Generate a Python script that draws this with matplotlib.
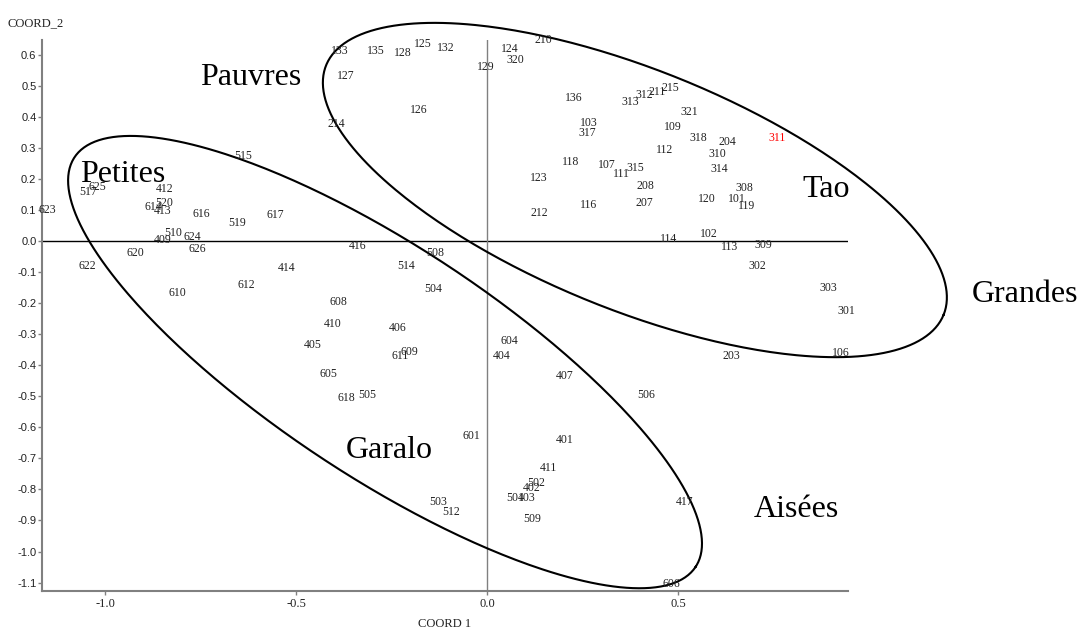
import numpy as np
import matplotlib.pyplot as plt

plt.rcParams['font.family'] = 'Liberation Serif'
plt.rcParams['axes.unicode_minus'] = False

# ---------------------------------------------------------------------------
# individus (etiquette, coord 1, coord 2)
# ---------------------------------------------------------------------------
labels = ['133', '135', '128', '125', '132', '124', '210', '320', '129', '127',
          '126', '214', '136', '103', '317', '313', '312', '211', '215', '321',
          '109', '318', '204', '311', '112', '310', '118', '107', '111', '315',
          '123', '314', '208', '308', '120', '101', '119', '207', '116', '212',
          '102', '114', '113', '309', '302', '303', '301', '203', '106',
          '515', '517', '625', '412', '623', '614', '520', '413', '616', '519',
          '617', '510', '624', '409', '620', '626', '622', '414', '612', '610',
          '416', '508', '514', '504', '608', '410', '406', '405', '609', '611',
          '605', '618', '505', '604', '404', '407', '506', '601', '401', '411',
          '502', '402', '501', '403', '503', '512', '417', '509', '606']
coord1 = [-0.385, -0.291, -0.220, -0.168, -0.107, 0.060, 0.147, 0.073, -0.003, -0.369,
          -0.178, -0.395, 0.228, 0.267, 0.262, 0.374, 0.411, 0.445, 0.479, 0.529,
          0.487, 0.552, 0.628, 0.759, 0.466, 0.602, 0.220, 0.314, 0.353, 0.387,
          0.136, 0.607, 0.414, 0.673, 0.576, 0.654, 0.680, 0.411, 0.267, 0.136,
          0.581, 0.474, 0.634, 0.723, 0.707, 0.893, 0.940, 0.639, 0.927,
          -0.639, -1.045, -1.021, -0.843, -1.152, -0.874, -0.846, -0.848, -0.749, -0.654,
          -0.555, -0.822, -0.772, -0.848, -0.921, -0.759, -1.047, -0.524, -0.631, -0.811,
          -0.340, -0.136, -0.212, -0.141, -0.390, -0.403, -0.233, -0.455, -0.204, -0.228,
          -0.416, -0.369, -0.314, 0.058, 0.039, 0.204, 0.416, -0.042, 0.202, 0.160,
          0.128, 0.118, 0.073, 0.105, -0.128, -0.094, 0.516, 0.118, 0.482]
coord2 = [0.612, 0.612, 0.605, 0.634, 0.621, 0.618, 0.647, 0.583, 0.560, 0.531,
          0.422, 0.377, 0.460, 0.380, 0.348, 0.448, 0.470, 0.480, 0.493, 0.415,
          0.367, 0.332, 0.319, 0.332, 0.293, 0.280, 0.254, 0.246, 0.216, 0.235,
          0.203, 0.232, 0.177, 0.171, 0.135, 0.135, 0.113, 0.122, 0.116, 0.090,
          0.023, 0.006, -0.019, -0.013, -0.080, -0.151, -0.225, -0.370, -0.361,
          0.274, 0.158, 0.174, 0.167, 0.100, 0.109, 0.122, 0.097, 0.087, 0.058,
          0.084, 0.026, 0.013, 0.003, -0.039, -0.026, -0.080, -0.087, -0.142, -0.167,
          -0.016, -0.039, -0.080, -0.155, -0.196, -0.267, -0.280, -0.335, -0.357, -0.370,
          -0.428, -0.505, -0.496, -0.322, -0.370, -0.435, -0.496, -0.628, -0.641, -0.731,
          -0.779, -0.795, -0.827, -0.827, -0.840, -0.873, -0.840, -0.895, -1.104]
highlight = ['311']

# groupes (nom, coord 1, coord 2 de la ligne de base)
group_names = ['Pauvres', 'Petites', 'Tao', 'Grandes', 'Garalo', 'Aisées']
group_x = [-0.618, -0.953, 0.887, 1.407, -0.257, 0.809]
group_y = [0.502, 0.190, 0.142, -0.196, -0.699, -0.889]

# contours (centre, demi-axes en pixels, angle en degres)
loops = [(0.387, 0.164, 333, 120, 22.0),
         (-0.267, -0.390, 372, 115, 33.4)]

xmin, xmax = -1.165, 0.945
ymin, ymax = -1.126, 0.647

fig = plt.figure(figsize=(10.77, 6.31), dpi=100)
ax = fig.add_axes([0.039, 0.0639, 0.7484, 0.8727])
ax.set_xlim(xmin, xmax)
ax.set_ylim(ymin, ymax)

# axes de reference
ax.axhline(0, color='black', lw=1.0, zorder=1)
ax.axvline(0, color='#808080', lw=1.0, zorder=1)

for lab, x, y in zip(labels, coord1, coord2):
    col = 'red' if lab in highlight else '#222222'
    ax.text(x, y, lab, ha='center', va='center', fontsize=8.5,
            color=col, clip_on=False, zorder=3)

# ellipses tracees a la main
kx = 0.7484 * 1077 / (xmax - xmin)
ky = 0.8727 * 631 / (ymax - ymin)
t = np.linspace(0, 2 * np.pi, 400)
for cx, cy, a, b, ang in loops:
    th = np.radians(ang)
    px = a * np.cos(t) * np.cos(th) - b * np.sin(t) * np.sin(th)
    py = a * np.cos(t) * np.sin(th) + b * np.sin(t) * np.cos(th)
    ax.plot(cx + px / kx, cy - py / ky, color='black', lw=1.5, zorder=2,
            clip_on=False)

for name, x, y in zip(group_names, group_x, group_y):
    ax.text(x, y, name, ha='center', va='baseline', fontsize=23,
            color='black', clip_on=False, zorder=4)

for s in ['top', 'right']:
    ax.spines[s].set_visible(False)
for s in ['left', 'bottom']:
    ax.spines[s].set_color('#808080')
    ax.spines[s].set_linewidth(1.5)

ax.set_xticks([-1.0, -0.5, 0.0, 0.5])
ax.set_xticklabels(['%.1f' % v for v in [-1.0, -0.5, 0.0, 0.5]], fontsize=9)
yt = [round(v, 1) for v in np.arange(-1.1, 0.61, 0.1)]
ax.set_yticks(yt)
ax.set_yticklabels(['%.1f' % v for v in yt], fontsize=8,
                   fontfamily='Liberation Sans')
ax.tick_params(axis='both', colors='#808080', length=3, width=1)
ax.tick_params(axis='y', pad=1, labelcolor='#222222')
ax.tick_params(axis='x', pad=2, labelcolor='#222222')

fig.text(8 / 1077, 1 - 23 / 631, 'COORD_2', ha='left', va='center',
         fontsize=9, color='#222222')
fig.text(445 / 1077, 1 - 624 / 631, 'COORD 1', ha='center', va='center',
         fontsize=9, color='#222222')

fig.savefig('out.png', dpi=100)
